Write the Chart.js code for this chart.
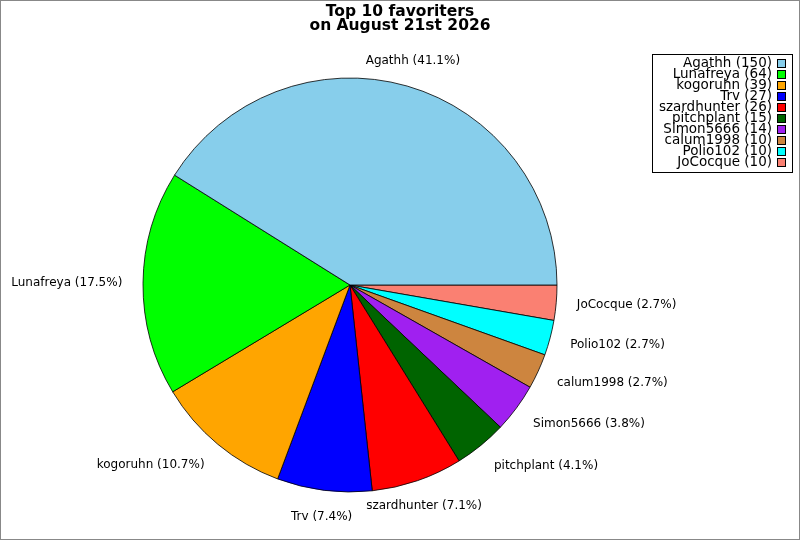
<!DOCTYPE html>
<html>
<head>
<meta charset="utf-8">
<script src="https://cdn.jsdelivr.net/npm/chart.js@4.4.1/dist/chart.umd.min.js"></script>
<style>
    html, body { margin: 0; padding: 0; background: #fff; }
    canvas { display: block; }
</style>
</head>
<body>
<canvas id="favChart" width="800" height="540"></canvas>
<script>
// data, in legend order (counter-clockwise from 3 o'clock)
const names = ['Agathh', 'Lunafreya', 'kogoruhn', 'Trv', 'szardhunter', 'pitchplant', 'Simon5666', 'calum1998', 'Polio102', 'JoCocque'];
const counts = [150, 64, 39, 27, 26, 15, 14, 10, 10, 10];
const colors = ['#87ceeb', '#00ff00', '#ffa500', '#0000ff', '#ff0000', '#006400', '#a020f0', '#cd853f', '#00ffff', '#fa8072'];
const titleLines = ['Top 10 favoriters', 'on August 21st 2026'];

const total = counts.reduce((a, b) => a + b, 0);
const FONT = '"DejaVu Sans", sans-serif';

// Chart.js goes clockwise, so feed it reversed to get the counter-clockwise order
const revCounts = counts.slice().reverse();
const revColors = colors.slice().reverse();
const revNames = names.slice().reverse();

const frame = {
    id: 'frame',
    beforeDraw(chart) {
        const ctx = chart.ctx;
        ctx.save();
        ctx.fillStyle = '#fff';
        ctx.fillRect(0, 0, chart.width, chart.height);
        ctx.strokeStyle = '#888';
        ctx.lineWidth = 1;
        ctx.strokeRect(0.5, 0.5, chart.width - 1, chart.height - 1);
        ctx.restore();
    },
    afterDraw(chart) {
        const ctx = chart.ctx;
        ctx.save();

        // title
        ctx.fillStyle = '#000';
        ctx.font = 'bold 15.5px ' + FONT;
        ctx.textAlign = 'center';
        ctx.textBaseline = 'alphabetic';
        ctx.fillText(titleLines[0], 400, 16);
        ctx.fillText(titleLines[1], 400, 29.5);

        // slice labels
        ctx.textBaseline = 'middle';
        const meta = chart.getDatasetMeta(0);
        ctx.font = '12px ' + FONT;
        meta.data.forEach((arc, i) => {
            const mid = (arc.startAngle + arc.endAngle) / 2;
            const r = arc.outerRadius * 1.1;
            const c = Math.cos(mid), s = Math.sin(mid);
            const px = arc.x + r * c;
            const py = arc.y + r * s;
            const pct = (revCounts[i] / total * 100).toFixed(1);
            if (Math.abs(c) < 0.5) ctx.textAlign = 'center';
            else ctx.textAlign = c > 0 ? 'left' : 'right';
            ctx.fillText(revNames[i] + ' (' + pct + '%)', px, py + s * 6);
        });

        // legend
        ctx.lineWidth = 1;
        ctx.strokeStyle = '#000';
        ctx.strokeRect(652.5, 54.5, 140, 118);
        ctx.font = '13.5px ' + FONT;
        ctx.textAlign = 'right';
        names.forEach((n, i) => {
            const y = 63.5 + i * 11.05;
            ctx.fillStyle = '#000';
            ctx.fillText(n + ' (' + counts[i] + ')', 772, y);
            ctx.fillStyle = colors[i];
            ctx.fillRect(778, Math.round(y - 4), 7, 7);
            ctx.strokeRect(777.5, Math.round(y - 4) - 0.5, 8, 8);
        });
        ctx.restore();
    }
};

new Chart(document.getElementById('favChart'), {
    type: 'pie',
    data: {
        labels: revNames,
        datasets: [{
            data: revCounts,
            backgroundColor: revColors,
            borderColor: '#000',
            borderWidth: 0.8
        }]
    },
    options: {
        responsive: false,
        animation: false,
        rotation: 90,
        radius: 207,
        layout: {
            padding: { left: 143, right: 243, top: 78, bottom: 48 }
        },
        plugins: {
            legend: { display: false },
            title: { display: false },
            tooltip: { enabled: false }
        }
    },
    plugins: [frame]
});
</script>
</body>
</html>
